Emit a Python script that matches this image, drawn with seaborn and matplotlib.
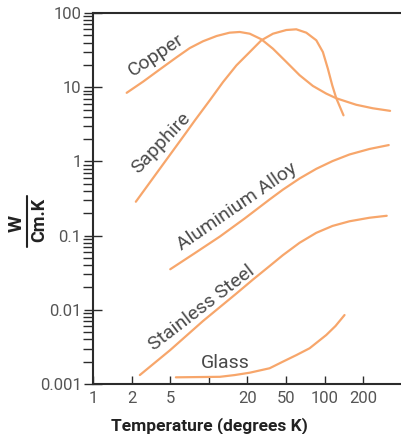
import numpy as np
import pandas as pd
import matplotlib
matplotlib.use('Agg')
import matplotlib.pyplot as plt
import seaborn as sns

# tick sequence of the temperature axis (equally spaced 1-2-5 steps)
temp_ticks = [1, 2, 5, 10, 20, 50, 100, 200, 500]
temp_labels = ['1', '2', '5', '', '20', '50', '100', '200', '']

# thermal conductivity curves, W / (cm.K)
copper_T = [1.83, 2.63, 3.91, 5.6, 7.1, 9.0, 11.5, 14.5, 17.4, 21.1, 27.8, 36.6, 50.2, 63.7,
            80.8, 102.7, 122.8, 156, 175.8, 250, 377]
copper_k = [8.4, 11.9, 17.4, 25.3, 33.7, 41.6, 49.0, 54.3, 55.5, 52.6, 44.2, 33.0, 21.9, 14.5,
            10.4, 8.2, 7.1, 6.2, 5.8, 5.2, 4.8]

sapphire_T = [2.21, 6.7, 7.77, 10.2, 12.9, 16.4, 21.1, 27.8, 36.6, 50.2, 60.0, 71.8, 85.9,
              96.7, 105.7, 114.4, 122.8, 140]
sapphire_k = [0.286, 2.49, 3.56, 6.71, 11.75, 19.7, 29.8, 42.9, 52.6, 59.0, 60.3, 54.3, 42.9,
              29.8, 17.8, 10.6, 7.15, 4.18]

alu_T = [5.0, 7.77, 12.2, 19.0, 33.8, 46.3, 63.7, 85.9, 115, 156, 231, 365]
alu_k = [0.0352, 0.0580, 0.0973, 0.170, 0.307, 0.416, 0.589, 0.794, 1.01, 1.24, 1.47, 1.66]

steel_T = [2.43, 5.0, 9.0, 16.4, 22.8, 33.8, 46.3, 63.7, 85.9, 115, 156, 231, 348]
steel_k = [0.00132, 0.00287, 0.00706, 0.0166, 0.0256, 0.0389, 0.0545, 0.0801, 0.109, 0.135,
           0.156, 0.174, 0.185]

glass_T = [5.53, 8.2, 12.2, 15.9, 21.1, 33.8, 46.3, 60.3, 76.2, 102.7, 121.3, 142.6]
glass_k = [0.00123, 0.00124, 0.00125, 0.00132, 0.00142, 0.00163, 0.0020, 0.00246, 0.00303,
           0.00457, 0.00605, 0.0085]

# curve labels: text, T, k, angle
labels = [
    ('Copper', 3.54, 27.2, 33.5),
    ('Sapphire', 4.07, 1.75, 46.5),
    ('Aluminium Alloy', 16.6, 0.245, 34.5),
    ('Stainless Steel', 8.76, 0.0107, 37.5),
    ('Glass', 13.5, 0.0019, 0),
]

line_col = '#f7a66b'
text_col = '#4a4a4a'
axis_col = '#2b2b2b'

sns.set_style('ticks')
plt.rcParams['font.family'] = ['Roboto', 'DejaVu Sans']

frames = []
for name, T, k in [('Copper', copper_T, copper_k), ('Sapphire', sapphire_T, sapphire_k),
                   ('Aluminium Alloy', alu_T, alu_k), ('Stainless Steel', steel_T, steel_k),
                   ('Glass', glass_T, glass_k)]:
    frames.append(pd.DataFrame({'material': name, 'T': T, 'k': k}))
df = pd.concat(frames, ignore_index=True)

log_ticks = np.log10(temp_ticks)
idx = np.arange(len(temp_ticks))


def fwd(t):
    t = np.clip(np.asarray(t, dtype=float), 1e-6, None)
    return np.interp(np.log10(t), log_ticks, idx)


def inv(i):
    return 10 ** np.interp(np.asarray(i, dtype=float), idx, log_ticks)


W, H = 402, 434
fig = plt.figure(figsize=(W / 100, H / 100), dpi=100)
ax = fig.add_axes([93 / W, 50 / H, 309 / W, 371 / H])

for name, g in df.groupby('material', sort=False):
    sns.lineplot(data=g, x='T', y='k', ax=ax, color=line_col, lw=1.6,
                 sort=False, estimator=None, legend=False)

ax.set_xscale('function', functions=(fwd, inv))
ax.set_yscale('log')
ax.set_xlim(1, 500)
ax.set_ylim(0.001, 100)

ax.set_xticks(temp_ticks)
ax.set_xticklabels(temp_labels)
ax.xaxis.set_minor_locator(matplotlib.ticker.NullLocator())
ax.set_yticks([0.001, 0.01, 0.1, 1, 10, 100])
ax.set_yticklabels(['0.001', '0.01', '0.1', '1', '10', '100'])
ax.yaxis.set_minor_locator(matplotlib.ticker.LogLocator(base=10, subs=np.arange(2, 10)))
ax.yaxis.set_minor_formatter(matplotlib.ticker.NullFormatter())

ax.tick_params(axis='x', which='major', direction='in', length=6, width=1,
               color=axis_col, labelcolor='#555555', labelsize=12, pad=5)
ax.tick_params(axis='y', which='major', direction='inout', length=12.5, width=1,
               color=axis_col, labelcolor='#555555', labelsize=12, pad=2)
ax.tick_params(axis='y', which='minor', direction='out', length=7, width=1, color=axis_col)

for s in ['left', 'bottom', 'top']:
    ax.spines[s].set_color(axis_col)
    ax.spines[s].set_linewidth(1.5)
ax.spines['right'].set_visible(False)

for txt, tx, ty, ang in labels:
    ax.text(tx, ty, txt, rotation=ang, rotation_mode='anchor', ha='center', va='center',
            fontsize=14, color=text_col)

ax.set_xlabel('Temperature (degrees K)', fontsize=12.5, fontweight='bold', color='#222222')
ax.xaxis.set_label_coords(0.377, -0.09)
ax.set_ylabel('')

# y label drawn as a fraction W / Cm.K
fig.text(16.5 / W, 1 - 223 / H, 'W', rotation=90, ha='center', va='center',
         fontsize=14, fontweight='bold', color='#222222')
fig.text(39.5 / W, 1 - 220 / H, 'Cm.K', rotation=90, ha='center', va='center',
         fontsize=13, fontweight='bold', color='#222222')
fig.add_artist(plt.Line2D([27 / W, 27 / W], [1 - 196 / H, 1 - 247 / H],
                          transform=fig.transFigure, color='#222222', lw=1.5))

fig.savefig('out.png', dpi=100)
